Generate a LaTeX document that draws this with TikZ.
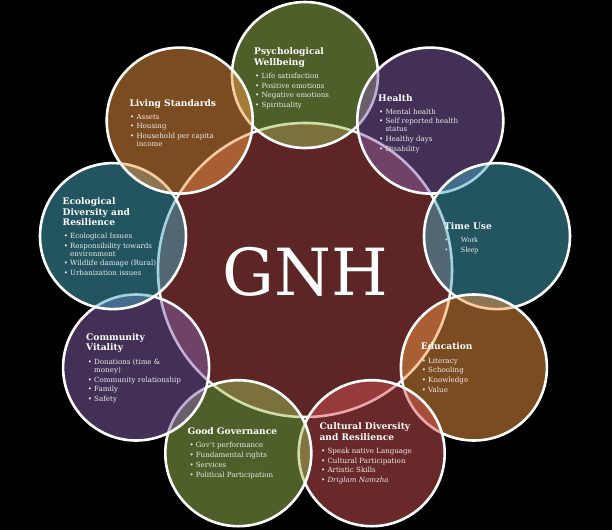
\documentclass[tikz,border=0pt]{standalone}
\usepackage{fontspec}
\newfontfamily\bk{DejaVu Serif}
\newfontfamily\tms{Liberation Serif}
\definecolor{cmaroon}{RGB}{93,37,37}
\definecolor{corange}{RGB}{246,152,66}
\definecolor{cteal}{RGB}{70,170,194}
\definecolor{cpurple}{RGB}{132,96,172}
\definecolor{cgreen}{RGB}{156,190,84}
\definecolor{cred}{RGB}{210,80,84}
\definecolor{ctext}{RGB}{235,235,235}
\newcommand{\bl}{\textbullet\hspace{0.3em}}
\newcommand{\hang}{\phantom{\textbullet}\hspace{0.3em}}
\tikzset{
 ring/.style={circle, minimum size=146pt, inner sep=0pt, outer sep=0pt, draw=white, line width=2.6pt, fill=#1, fill opacity=0.5, draw opacity=1},
 head/.style={anchor=north west, inner sep=0pt, align=left, text=white, font=\bk\fontsize{9.1}{10.6}\selectfont\bfseries},
 items/.style={anchor=north west, inner sep=0pt, align=left, text=ctext, font=\bk\fontsize{7.1}{9.7}\selectfont},
}
\begin{document}
\begin{tikzpicture}[x=1pt,y=-1pt]
\fill[black] (0,0) rectangle (612,530);
\useasboundingbox (0,0) rectangle (612,530);
% centre
\node[circle, minimum size=294pt, inner sep=0pt, fill=cmaroon, draw=white, line width=2.6pt] (core) at (305,270) {};
% Psychological Wellbeing
\node[ring=cgreen] (psy) at (305,75) {};
\node[head] (psyh) at (254,47.5) {Psychological\\Wellbeing};
\node[items] (psyi) at (255,73) {\bl Life satisfaction\\\bl Positive emotions\\\bl Negative emotions\\\bl Spirituality};
% Health
\node[ring=cpurple] (hea) at (430.3,120.6) {};
\node[head] (heah) at (378,94.2) {Health};
\node[items] (heai) at (379,108.7) {\bl Mental health\\\bl Self reported health\\[-2pt]\hang status\\\bl Healthy days\\\bl Disability};
% Time Use
\node[ring=cteal] (tim) at (497,236.1) {};
\node[head] (timh) at (444,222.6) {Time Use};
\node[items, font=\tms\fontsize{7.8}{10}\selectfont] (timi) at (445,237) {\textbullet\hspace{13pt}Work\\\textbullet\hspace{13pt}Sleep};
% Education
\node[ring=corange] (edu) at (473.9,367.5) {};
\node[head] (eduh) at (420.7,342.6) {Education};
\node[items] (edui) at (421.7,357.7) {\bl Literacy\\\bl Schooling\\\bl Knowledge\\\bl Value};
% Cultural Diversity and Resilience
\node[ring=cred] (cul) at (371.7,453.2) {};
\node[head] (culh) at (319.3,422.6) {Cultural Diversity\\and Resilience};
\node[items] (culi) at (321,447.7) {\bl Speak native Language\\\bl Cultural Participation\\\bl Artistic Skills\\{\itshape\bl Driglam Namzha}};
% Good Governance
\node[ring=cgreen] (gov) at (238.3,453.2) {};
\node[head] (govh) at (187.3,427.6) {Good Governance};
\node[items] (govi) at (189.3,442.3) {\bl Gov’t performance\\\bl Fundamental rights\\\bl Services\\\bl Political Participation};
% Community Vitality
\node[ring=cpurple] (com) at (136.1,367.5) {};
\node[head] (comh) at (86,333.2) {Community\\Vitality};
\node[items] (comi) at (87.7,358.7) {\bl Donations (time \&\\[-1.7pt]\hang money)\\\bl Community relationship\\\bl Family\\\bl Safety};
% Ecological Diversity and Resilience
\node[ring=cteal] (eco) at (113,236.1) {};
\node[head] (ecoh) at (62.5,197.6) {Ecological\\Diversity and\\Resilience};
\node[items] (ecoi) at (63.6,233) {\bl Ecological Issues\\\bl Responsibility towards\\[-1.7pt]\hang environment\\\bl Wildlife damage (Rural)\\\bl Urbanization issues};
% Living Standards
\node[ring=corange] (liv) at (179.7,120.6) {};
\node[head] (livh) at (129.3,99.2) {Living Standards};
\node[items] (livi) at (130,113.7) {\bl Assets\\\bl Housing\\\bl Household per capita\\[-1.7pt]\hang income};
% title
\node[text=white, font=\bk\fontsize{65}{65}\selectfont, inner sep=0pt] (gnh) at (305,271.5) {GNH};
\end{tikzpicture}
\end{document}
